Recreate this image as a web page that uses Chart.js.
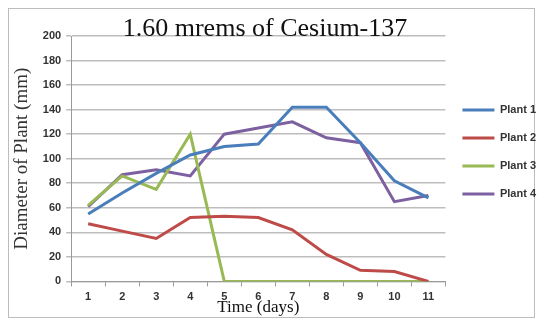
<!DOCTYPE html>
<html>
<head>
<meta charset="utf-8">
<script src="https://cdn.jsdelivr.net/npm/chart.js@4"></script>
<style>
  body { margin: 0; background: #fff; }
  canvas { position: absolute; left: 0; top: 0; }
</style>
</head>
<body>
<canvas id="myChart" width="541" height="325"></canvas>
<script>
// days on the x axis
const days = ["1", "2", "3", "4", "5", "6", "7", "8", "9", "10", "11"]

// diameter of each plant (mm)
const plant1 = [55, 72, 88, 103, 110, 112, 142, 142, 113, 82, 68]
const plant2 = [47, 41, 35, 52, 53, 52, 42, 22, 9, 8, 0]
const plant3 = [62, 86, 75, 120, 0, 0, 0, 0, 0, 0, 0]
const plant4 = [61, 87, 91, 86, 120, 125, 130, 117, 113, 65, 70]

const titleText = "1.60 mrems of Cesium-137"

// frame + title drawn by hand (title sits on top of the 200 gridline)
const framePlugin = {
  id: "frame",
  afterLayout(chart) {
    // legend sits a bit higher than chart.js centres it
    chart.legend.top -= 25
    chart.legend.bottom -= 25
  },
  beforeDraw(chart) {
    const ctx = chart.ctx
    ctx.save()
    ctx.strokeStyle = "#bcbcbc"
    ctx.lineWidth = 1
    ctx.strokeRect(8.5, 8.5, 526, 309)
    ctx.restore()
  },
  afterDraw(chart) {
    const ctx = chart.ctx
    ctx.save()
    ctx.font = "26px 'Liberation Serif'"
    ctx.textAlign = "center"
    ctx.textBaseline = "alphabetic"
    const w = ctx.measureText(titleText).width
    ctx.fillStyle = "#fff"
    ctx.fillRect(265 - w / 2 - 2, 17, w + 4, 18)
    ctx.fillStyle = "#111"
    ctx.fillText(titleText, 265, 36)
    ctx.restore()
  }
}

function ds(label, data, color) {
  return {
    label: label,
    data: data,
    borderColor: color,
    backgroundColor: color,
    borderWidth: 3,
    pointRadius: 0,
    tension: 0,
    fill: false
  }
}

const chart = new Chart("myChart", {
  type: "line",
  data: {
    labels: days,
    datasets: [
      ds("Plant 1", plant1, "#4a7ebb"),
      ds("Plant 2", plant2, "#be4b48"),
      ds("Plant 3", plant3, "#98b954"),
      ds("Plant 4", plant4, "#7d60a0")
    ]
  },
  plugins: [framePlugin],
  options: {
    responsive: false,
    animation: false,
    layout: { padding: { top: 36, right: -5, left: 11, bottom: 7 } },
    plugins: {
      legend: {
        position: "right",
        align: "center",
        labels: {
          usePointStyle: true,
          pointStyle: "line",
          pointStyleWidth: 32,
          padding: 17,
          color: "#333",
          font: { family: "'Liberation Sans'", size: 11, weight: "bold" }
        }
      },
      tooltip: { enabled: false }
    },
    scales: {
      x: {
        offset: true,
        grid: { offset: true, drawOnChartArea: false, drawTicks: true, tickLength: 5, color: "#9a9a9a" },
        border: { color: "#9a9a9a" },
        ticks: { color: "#333", font: { family: "'Liberation Sans'", size: 11, weight: "bold" }, padding: 4 },
        title: { display: true, text: "Time (days)", color: "#111", font: { family: "'Liberation Serif'", size: 17 }, padding: { top: -10, bottom: 0 } }
      },
      y: {
        min: 0,
        max: 200,
        ticks: { stepSize: 20, color: "#333", font: { family: "'Liberation Sans'", size: 11, weight: "bold" }, padding: 5 },
        grid: { color: "#bdbdbd", lineWidth: 1.5, drawTicks: true, tickLength: 5 },
        border: { color: "#9a9a9a" },
        title: { display: true, text: "Diameter of Plant (mm)", color: "#333", font: { family: "'Liberation Serif'", size: 19 }, padding: { top: 0, bottom: 4 } }
      }
    }
  }
})
</script>
</body>
</html>
